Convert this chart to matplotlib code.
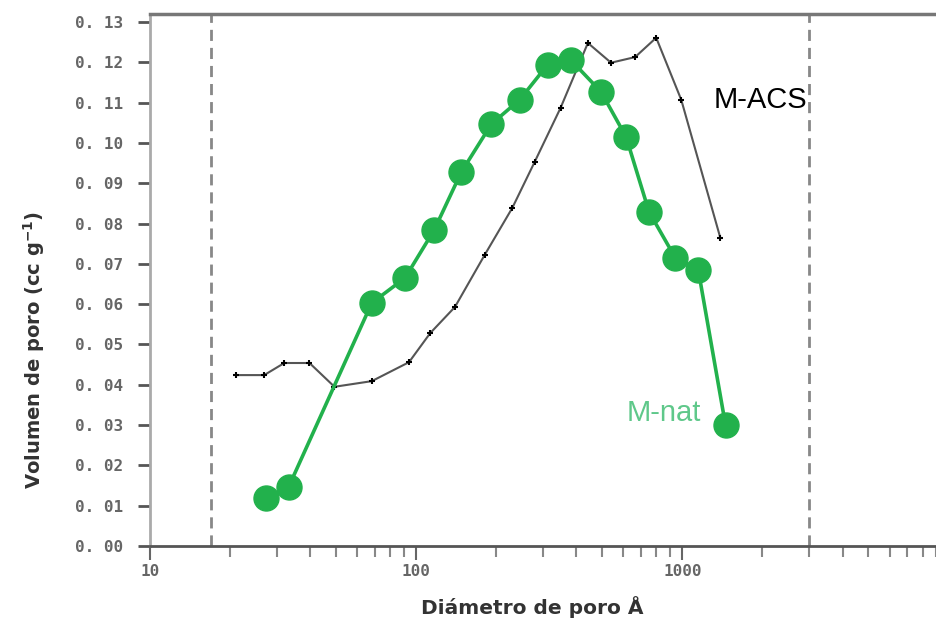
import numpy as np
import matplotlib.pyplot as plt
from matplotlib.ticker import FixedLocator, FuncFormatter, LogLocator, NullFormatter

# M-ACS (black line with + markers)
acs_d = [21.1, 26.9, 32.0, 39.8, 49.4, 68.2, 94.1, 113, 140, 181, 230, 279, 349, 442, 540, 665, 798, 991, 1390]
acs_v = [0.0424, 0.0424, 0.0454, 0.0454, 0.0395, 0.0409, 0.0456, 0.0528, 0.0593, 0.0722,
         0.0839, 0.0953, 0.1087, 0.1248, 0.1199, 0.1213, 0.1261, 0.1107, 0.0764]

# M-nat (green line with large circles)
nat_d = [27.4, 33.2, 68.2, 90.9, 117, 148, 192, 245, 312, 381, 495, 615, 750, 941, 1148, 1453]
nat_v = [0.0119, 0.0146, 0.0603, 0.0665, 0.0784, 0.0928, 0.1047, 0.1107, 0.1194, 0.1206,
         0.1127, 0.1015, 0.0829, 0.0715, 0.0685, 0.0300]

limits = [17, 3000]
yticks = np.round(np.arange(0, 0.131, 0.01), 2)
xticks = [10, 100, 1000]

fig = plt.figure(figsize=(9.36, 6.23), dpi=100)
ax = fig.add_axes([0.160, 0.1236, 0.845, 0.854])

for xv in limits:
    ax.axvline(xv, color='#888888', lw=2, ls=(0, (4, 2.5)), zorder=1)

ax.plot(acs_d, acs_v, color='#555555', lw=1.5, marker='+', ms=5, mew=1.5, mec='black', zorder=3)
ax.plot(nat_d, nat_v, color='#22b14c', lw=2.6, marker='o', ms=18, mfc='#22b14c', mec='#22b14c', zorder=4)

ax.text(1309, 0.1107, 'M-ACS', fontsize=21, family='Liberation Sans', color='black', va='center', ha='left')
ax.text(620, 0.0330, 'M-nat', fontsize=21, family='Liberation Sans', color='#5fc88a', va='center', ha='left')

ax.set_xscale('log')
ax.set_xlim(10, 9340)
ax.set_ylim(0, 0.132)

ax.xaxis.set_major_locator(FixedLocator(xticks))
ax.xaxis.set_major_formatter(FuncFormatter(lambda v, p: '%d' % v))
ax.xaxis.set_minor_locator(LogLocator(base=10, subs=np.arange(2, 10)))
ax.xaxis.set_minor_formatter(NullFormatter())
ax.set_yticks(yticks)
ax.yaxis.set_major_formatter(FuncFormatter(lambda v, p: '0. %02d' % round(v * 100)))

for lab in ax.get_yticklabels() + ax.get_xticklabels():
    lab.set_family('DejaVu Sans Mono')
    lab.set_fontweight('bold')
    lab.set_color('#666666')
    lab.set_fontsize(11.5)

ax.tick_params(axis='y', direction='out', length=9, width=2, color='#555555', pad=10)
ax.tick_params(axis='x', which='major', direction='out', length=10, width=1.5, color='#666666', pad=3)
ax.tick_params(axis='x', which='minor', direction='out', length=8, width=1.5, color='#888888')

ax.spines['right'].set_visible(False)
ax.spines['top'].set_color('#777777')
ax.spines['top'].set_linewidth(2.5)
ax.spines['left'].set_color('#aaaaaa')
ax.spines['left'].set_linewidth(2)
ax.spines['bottom'].set_color('#555555')
ax.spines['bottom'].set_linewidth(2)

ax.set_ylabel('Volumen de poro (cc g$^{\\mathbf{-1}}$)', fontsize=14, fontweight='bold', color='#333333')
ax.yaxis.set_label_coords(-0.13, 0.368)
ax.set_xlabel('Diámetro de poro Å', fontsize=14.5, fontweight='bold', color='#333333')
ax.xaxis.set_label_coords(0.483, -0.094)

plt.savefig('out.png', dpi=100)
